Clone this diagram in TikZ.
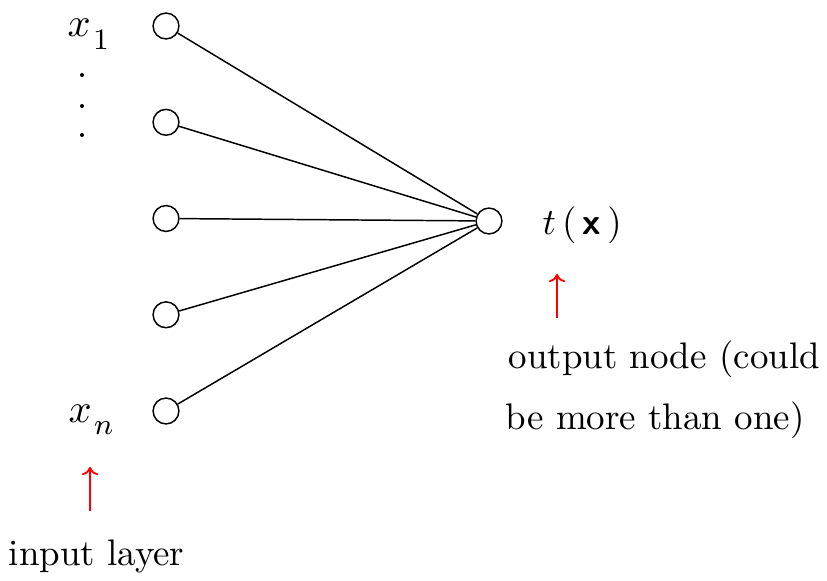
\documentclass[tikz,border=0pt]{standalone}
\usetikzlibrary{arrows.meta}
\newcommand\lowsub[1]{\kern0.6pt\raisebox{-3.4pt}{$\scriptstyle #1$}}
\begin{document}
\begin{tikzpicture}[x=0.2706pt,y=-0.2706pt,
  unit/.style={circle,draw,line width=0.4pt,minimum size=7pt,inner sep=0pt},
  link/.style={line width=0.4pt},
  redarrow/.style={draw=red,line width=0.5pt,-{Computer Modern Rightarrow[length=2.2pt,width=4.4pt]}},
  lbl/.style={anchor=base west,inner sep=0pt},
  mathlbl/.style={lbl,font=\fontsize{11}{13}\selectfont}]
\useasboundingbox (0,0) rectangle (827,581);
\node[unit] (i1) at (166,26) {};
\node[unit] (i2) at (166,122.3) {};
\node[unit] (i3) at (166,218.5) {};
\node[unit] (i4) at (166,314.8) {};
\node[unit] (i5) at (166,411) {};
\node[unit] (o) at (489,221) {};
\foreach \i in {1,...,5} \draw[link] (i\i) -- (o);
\node[mathlbl] (x1) at (67,37) {$x$\lowsub{1}};
\node[mathlbl] (xn) at (68,422) {$x$\lowsub{n}};
\fill (82,75) circle (2) (82,106) circle (2) (82,135) circle (2);
\node[lbl] (tx) at (542,235) {$t\,(\,\mbox{\textsf{\textbf{x}}}\,)$};
\coordinate (a1s) at (557,318);
\coordinate (a1e) at (557,274);
\draw[redarrow] (a1s) -- (a1e);
\coordinate (a2s) at (90,511);
\coordinate (a2e) at (90,467);
\draw[redarrow] (a2s) -- (a2e);
\node[lbl] (out1) at (508,368) {output node (could};
\node[lbl] (out2) at (505,430) {be more than one)};
\node[lbl] (inp) at (8,565) {input layer};
\end{tikzpicture}
\end{document}
